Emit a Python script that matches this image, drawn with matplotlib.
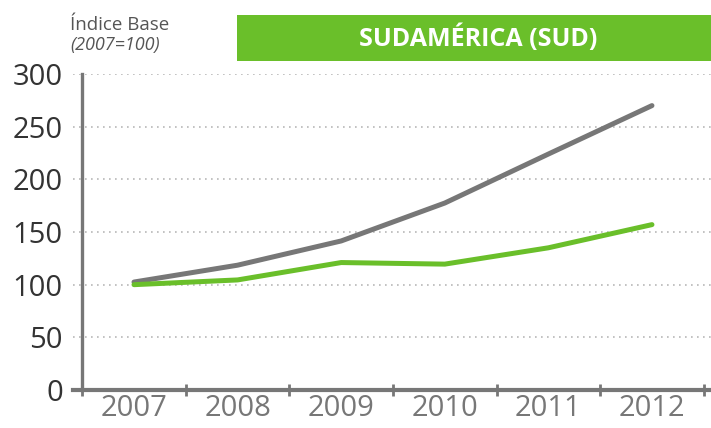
import matplotlib
matplotlib.use("Agg")
import matplotlib.pyplot as plt
from matplotlib.patches import Rectangle

years = ["2007", "2008", "2009", "2010", "2011", "2012"]
gray_series = [102.5, 118.5, 141.5, 177.5, 224, 270]
green_series = [100, 104.5, 121, 119.5, 135, 157]
yticks = [0, 50, 100, 150, 200, 250, 300]

GREEN = "#6abf2a"
GRAY = "#777777"

plt.rcParams['font.family'] = ['Open Sans', 'DejaVu Sans']

fig = plt.figure(figsize=(7.11, 4.28), dpi=100)
W, H = 711, 428
left_px, right_px = 73, 711
bot_px, top_px = 390, 74
ax = fig.add_axes([left_px / W, (H - bot_px) / H, (right_px - left_px) / W, (bot_px - top_px) / H])

x = list(range(len(years)))
ax.plot(x, gray_series, color=GRAY, lw=3.6, solid_capstyle='round', solid_joinstyle='round', zorder=3)
ax.plot(x, green_series, color=GREEN, lw=3.6, solid_capstyle='round', solid_joinstyle='round', zorder=4)

ax.set_xlim(-0.589, 5.57)
ax.set_ylim(0, 300)

for s in ['top', 'right']:
    ax.spines[s].set_visible(False)
ax.spines['left'].set_position(('data', -0.5))
ax.spines['left'].set_color(GRAY)
ax.spines['left'].set_linewidth(2.4)
ax.spines['bottom'].set_color(GRAY)
ax.spines['bottom'].set_linewidth(3)

ax.set_yticks(yticks)
ax.set_yticklabels([str(v) for v in yticks])
ax.tick_params(axis='y', length=0, pad=14, labelsize=21, labelcolor='#333333')
ax.yaxis.grid(True, linestyle=(0, (1, 2.6)), color='#b8b8b8', lw=1.2)
ax.set_axisbelow(True)

ax.set_xticks(x)
ax.set_xticklabels(years)
ax.tick_params(axis='x', which='major', length=0, pad=3, labelsize=21, labelcolor=GRAY)
ax.set_xticks([i - 0.5 for i in range(len(years) + 1)], minor=True)
ax.tick_params(axis='x', which='minor', direction='inout', length=9, width=2, color=GRAY)

fig.patches.append(Rectangle((237 / W, (H - 61) / H), (711 - 237) / W, 46 / H,
                             transform=fig.transFigure, facecolor=GREEN, edgecolor='none'))
fig.text(478 / W, (H - 38) / H, "SUDAMÉRICA (SUD)", color='white', fontsize=18,
         fontweight='bold', ha='center', va='center')
fig.text(70 / W, (H - 25) / H, "Índice Base", color='#555555', fontsize=13.5, ha='left', va='center')
fig.text(70 / W, (H - 45) / H, "(2007=100)", color='#555555', fontsize=13, style='italic',
         ha='left', va='center')

fig.savefig("out.png", dpi=100)
